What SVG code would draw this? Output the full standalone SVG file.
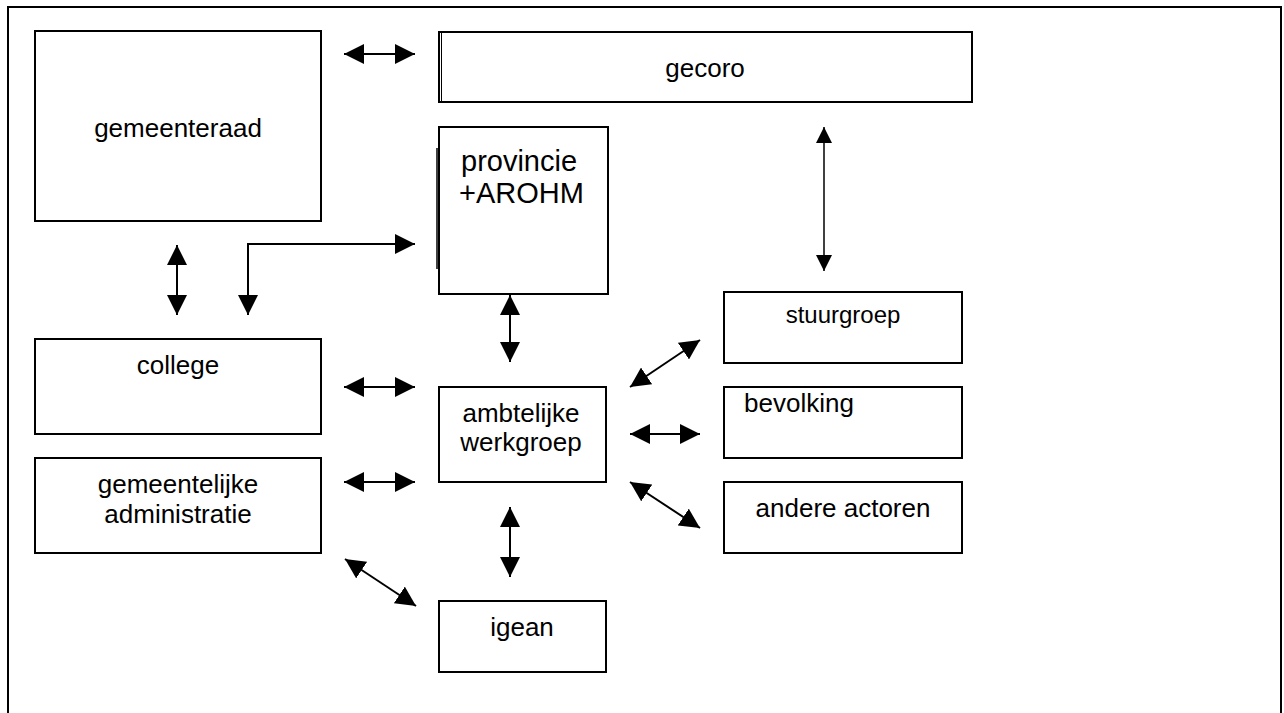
<svg xmlns="http://www.w3.org/2000/svg" width="1284" height="713" viewBox="0 0 1284 713">
<style>
.box{fill:#fff;stroke:#000;stroke-width:2}
.t{font-family:"Liberation Sans",Arial,sans-serif;font-size:26px;fill:#000}
.c{text-anchor:middle}
.ln{stroke:#000;stroke-width:2;fill:none}
.thin{stroke:#000;stroke-width:1.5;fill:none}
</style>
<defs>
<marker id="ah" viewBox="0 0 20 20" refX="20" refY="10" markerWidth="20" markerHeight="20" markerUnits="userSpaceOnUse" orient="auto-start-reverse">
<path d="M0,0 L20,10 L0,20 Z" fill="#000"/>
</marker>
<marker id="ahs" viewBox="0 0 16 16" refX="16" refY="8" markerWidth="16" markerHeight="16" markerUnits="userSpaceOnUse" orient="auto-start-reverse">
<path d="M0,0 L16,8 L0,16 Z" fill="#000"/>
</marker>
</defs>
<rect width="1284" height="713" fill="#fff"/>
<path d="M8,713 V7 H1281 V713" fill="none" stroke="#000" stroke-width="2"/>

<g id="gemeenteraad"><rect class="box" x="35" y="31" width="286" height="190"/><text class="t c" x="178" y="137">gemeenteraad</text></g>
<g id="gecoro"><rect class="box" x="439" y="32" width="533" height="70"/><line x1="441.5" y1="33" x2="441.5" y2="101" stroke="#000" stroke-width="1"/><text class="t c" x="705" y="77">gecoro</text></g>
<g id="provincie"><rect class="box" x="439" y="127" width="169" height="167"/><line x1="437" y1="148" x2="437" y2="269" stroke="#000" stroke-width="1.5"/><text class="t" style="font-size:29px" x="461" y="171">provincie</text><text class="t" style="font-size:29px" x="459" y="203">+AROHM</text></g>
<g id="college"><rect class="box" x="35" y="339" width="286" height="95"/><text class="t c" x="178" y="374">college</text></g>
<g id="administratie"><rect class="box" x="35" y="458" width="286" height="95"/><text class="t c" x="178" y="493">gemeentelijke</text><text class="t c" x="178" y="523">administratie</text></g>
<g id="ambtelijke"><rect class="box" x="439" y="387" width="167" height="95"/><text class="t c" x="521" y="422">ambtelijke</text><text class="t c" x="521" y="451">werkgroep</text></g>
<g id="igean"><rect class="box" x="439" y="601" width="167" height="71"/><text class="t c" x="522" y="636">igean</text></g>
<g id="stuurgroep"><rect class="box" x="724" y="292" width="238" height="71"/><text class="t c" style="font-size:24px" x="843" y="323">stuurgroep</text></g>
<g id="bevolking"><rect class="box" x="724" y="387" width="238" height="71"/><text class="t" x="744" y="412">bevolking</text></g>
<g id="andere"><rect class="box" x="724" y="482" width="238" height="71"/><text class="t c" x="843" y="517">andere actoren</text></g>

<g id="connectors">
<line class="ln" x1="344" y1="54" x2="415" y2="54" marker-start="url(#ah)" marker-end="url(#ah)"/>
<line class="thin" x1="824" y1="127" x2="824" y2="271" marker-start="url(#ahs)" marker-end="url(#ahs)"/>
<line class="ln" x1="177" y1="245" x2="177" y2="315" marker-start="url(#ah)" marker-end="url(#ah)"/>
<polyline class="ln" points="248,315 248,244 415,244" marker-start="url(#ah)" marker-end="url(#ah)"/>
<line class="ln" x1="510" y1="295" x2="510" y2="362" marker-start="url(#ah)" marker-end="url(#ah)"/>
<line class="ln" x1="344" y1="387" x2="415" y2="387" marker-start="url(#ah)" marker-end="url(#ah)"/>
<line class="ln" x1="344" y1="482" x2="415" y2="482" marker-start="url(#ah)" marker-end="url(#ah)"/>
<line class="ln" x1="510" y1="507" x2="510" y2="577" marker-start="url(#ah)" marker-end="url(#ah)"/>
<line class="ln" x1="345" y1="559" x2="416" y2="606" marker-start="url(#ah)" marker-end="url(#ah)"/>
<line class="ln" x1="630" y1="387" x2="700" y2="340" marker-start="url(#ah)" marker-end="url(#ah)"/>
<line class="ln" x1="630" y1="434" x2="700" y2="434" marker-start="url(#ah)" marker-end="url(#ah)"/>
<line class="ln" x1="630" y1="482" x2="700" y2="528" marker-start="url(#ah)" marker-end="url(#ah)"/>
</g>
</svg>
